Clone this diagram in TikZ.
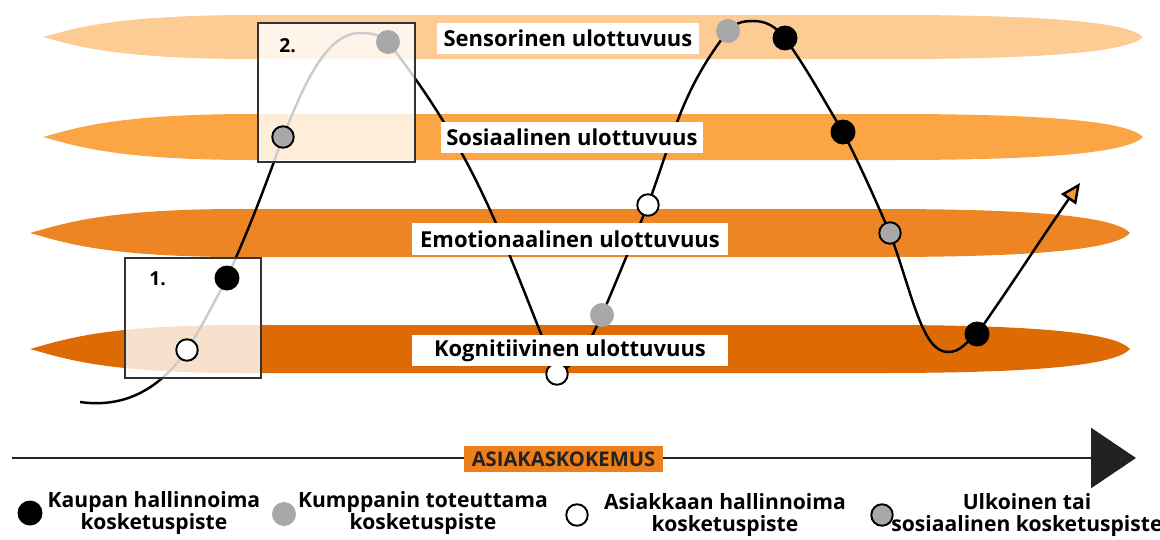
\documentclass[tikz,border=0pt]{standalone}
\usepackage{fontspec}
\setmainfont{Open Sans}
\usepackage{tikz}
\usetikzlibrary{arrows.meta,positioning,backgrounds}
\definecolor{sensvari}{HTML}{FDCB94}
\definecolor{sosvari}{HTML}{FBA544}
\definecolor{emovari}{HTML}{EE8524}
\definecolor{kogvari}{HTML}{DE6A04}
\definecolor{tagivari}{HTML}{EE7F1A}
\definecolor{nuolivari}{HTML}{F39A35}
\definecolor{pisteharmaa}{HTML}{A8A8A8}
\definecolor{reunaharmaa}{HTML}{333333}
\definecolor{akselivari}{HTML}{222222}

\begin{document}
\begin{tikzpicture}[
  x=0.02cm, y=0.02cm,
  font=\bfseries,
  kauppa/.style={circle, fill=black, minimum size=5mm, inner sep=0pt},
  kumppani/.style={circle, fill=pisteharmaa, minimum size=4.8mm, inner sep=0pt},
  asiakas/.style={circle, draw=black, fill=white, line width=1.1pt,
                  minimum size=4.3mm, inner sep=0pt},
  ulkoinen/.style={circle, draw=black, fill=pisteharmaa, line width=1.1pt,
                   minimum size=4.3mm, inner sep=0pt},
  ulottuvuus/.style={fill=white, inner sep=0pt, minimum height=6.3mm,
                     font=\fontsize{12.5}{15}\selectfont\bfseries},
  laatikko/.style={draw=reunaharmaa, line width=1.1pt, fill=white, fill opacity=0.8},
  polku/.style={draw=black, line width=1.4pt},
  selite/.style={align=center, font=\fontsize{12}{12.5}\selectfont\bfseries},
]
\useasboundingbox (0,0) rectangle (1160,539);

% Touchpoints on the path
\node[asiakas] (asiakas1) at (187,189) {};
\node[kauppa] (kauppa1) at (227,261) {};
\node[ulkoinen] (ulkoinen1) at (283,402) {};
\node[kumppani] (kumppani1) at (388,497) {};
\node[asiakas] (asiakas2) at (557,165) {};
\node[kumppani] (kumppani2) at (602,224) {};
\node[asiakas] (asiakas3) at (648,334) {};
\node[kumppani] (kumppani3) at (728,508) {};
\node[kauppa] (kauppa2) at (785,501) {};
\node[kauppa] (kauppa3) at (843,407) {};
\node[ulkoinen] (ulkoinen2) at (890,306) {};
\node[kauppa] (kauppa4) at (977,205) {};
\coordinate (alku) at (80,137);
\coordinate (huippu1) at (360,506);
\coordinate (huippu2) at (753,518);
\coordinate (pohja) at (948,187);
\coordinate (loppu) at (1080,356);

% Dimensions
\node[ulottuvuus, minimum width=5.24cm] (sens) at (568,500.5) {Sensorinen ulottuvuus};
\node[ulottuvuus, minimum width=5.24cm] (sos) at (572,401.5) {Sosiaalinen ulottuvuus};
\node[ulottuvuus, minimum width=6.32cm] (emo) at (570,300) {Emotionaalinen ulottuvuus};
\node[ulottuvuus, minimum width=6.32cm] (kog) at (570,188.5) {Kognitiivinen ulottuvuus};

\begin{scope}[on background layer]
% Bands
\fill[sensvari] (43,502) .. controls (73,510) and (113,524) .. (253,524) -- (893,524)
  .. controls (1043,524) and (1128,517) .. (1143,502)
  .. controls (1128,487) and (1043,480) .. (893,480) -- (253,480)
  .. controls (113,480) and (73,494) .. (43,502) -- cycle;
\fill[sosvari] (43,402) .. controls (73,410) and (113,425) .. (253,425) -- (893,425)
  .. controls (1043,425) and (1128,418) .. (1143,402)
  .. controls (1128,386) and (1043,379) .. (893,379) -- (253,379)
  .. controls (113,379) and (73,394) .. (43,402) -- cycle;
\fill[emovari] (30,306) .. controls (60,314) and (100,330) .. (240,330) -- (880,330)
  .. controls (1030,330) and (1115,323) .. (1130,306)
  .. controls (1115,289) and (1030,282) .. (880,282) -- (240,282)
  .. controls (100,282) and (60,298) .. (30,306) -- cycle;
\fill[kogvari] (30,190) .. controls (60,198) and (100,214) .. (240,214) -- (880,214)
  .. controls (1030,214) and (1115,207) .. (1130,190)
  .. controls (1115,173) and (1030,166) .. (880,166) -- (240,166)
  .. controls (100,166) and (60,182) .. (30,190) -- cycle;

% Customer path
\draw[polku, -{Triangle[length=4mm, width=3.6mm, fill=nuolivari]}]
  (alku) to[out=-8, in=-125] (asiakas1.center)
  to[out=58, in=-118] (kauppa1.center)
  to[out=66, in=-110] (ulkoinen1.center)
  to[out=68, in=180, out looseness=1, in looseness=0.7] (huippu1)
  to[out=0, in=140] (kumppani1.center)
  to[out=-52, in=112] (asiakas2.center)
  to[out=30, in=-115] (kumppani2.center)
  to[out=67, in=-113] (asiakas3.center)
  to[out=70, in=-128] (kumppani3.center)
  to[out=50, in=180] (huippu2)
  to[out=0, in=130] (kauppa2.center)
  to[out=-55, in=121] (kauppa3.center)
  to[out=-63, in=114] (ulkoinen2.center)
  to[out=-70, in=180, out looseness=1.3, in looseness=0.5] (pohja)
  to[out=0, in=-145] (kauppa4.center)
  to[out=55, in=-125] (loppu);

% Highlight boxes
\node[laatikko, minimum width=2.72cm, minimum height=2.4cm] (laatikko1) at (193,221) {};
\node[laatikko, minimum width=3.14cm, minimum height=2.78cm] (laatikko2) at (336.5,446.5) {};
\end{scope}

\node[font=\fontsize{11}{13}\selectfont\bfseries, inner sep=0pt,
  below right=2.8mm and 5mm of laatikko1.north west] (nro1) {1.};
\node[font=\fontsize{11}{13}\selectfont\bfseries, inner sep=0pt,
  below right=3.2mm and 4.4mm of laatikko2.north west] (nro2) {2.};

% Time axis
\coordinate (akseli0) at (12,81);
\coordinate (akseli1) at (1136,81);
\draw[akselivari, line width=1.6pt, -{Triangle[length=9mm, width=12mm]}] (akseli0) -- (akseli1);
\node[fill=tagivari, minimum width=3.98cm, minimum height=5.2mm, inner sep=0pt,
  font=\fontsize{11.5}{13}\selectfont\bfseries, text=akselivari] (kokemus) at (563.5,80) {ASIAKASKOKEMUS};

% Legend
\node[kauppa] (selite1) at (30,26) {};
\node[selite] (selite1teksti) at (154,26) {Kaupan hallinnoima\\kosketuspiste};
\node[kumppani] (selite2) at (284,25) {};
\node[selite] (selite2teksti) at (423,26) {Kumppanin toteuttama\\kosketuspiste};
\node[asiakas] (selite3) at (577,24) {};
\node[selite] (selite3teksti) at (725,24) {Asiakkaan hallinnoima\\kosketuspiste};
\node[ulkoinen] (selite4) at (882,24) {};
\node[selite] (selite4teksti) at (1027,24) {Ulkoinen tai\\sosiaalinen kosketuspiste};

\end{tikzpicture}
\end{document}
